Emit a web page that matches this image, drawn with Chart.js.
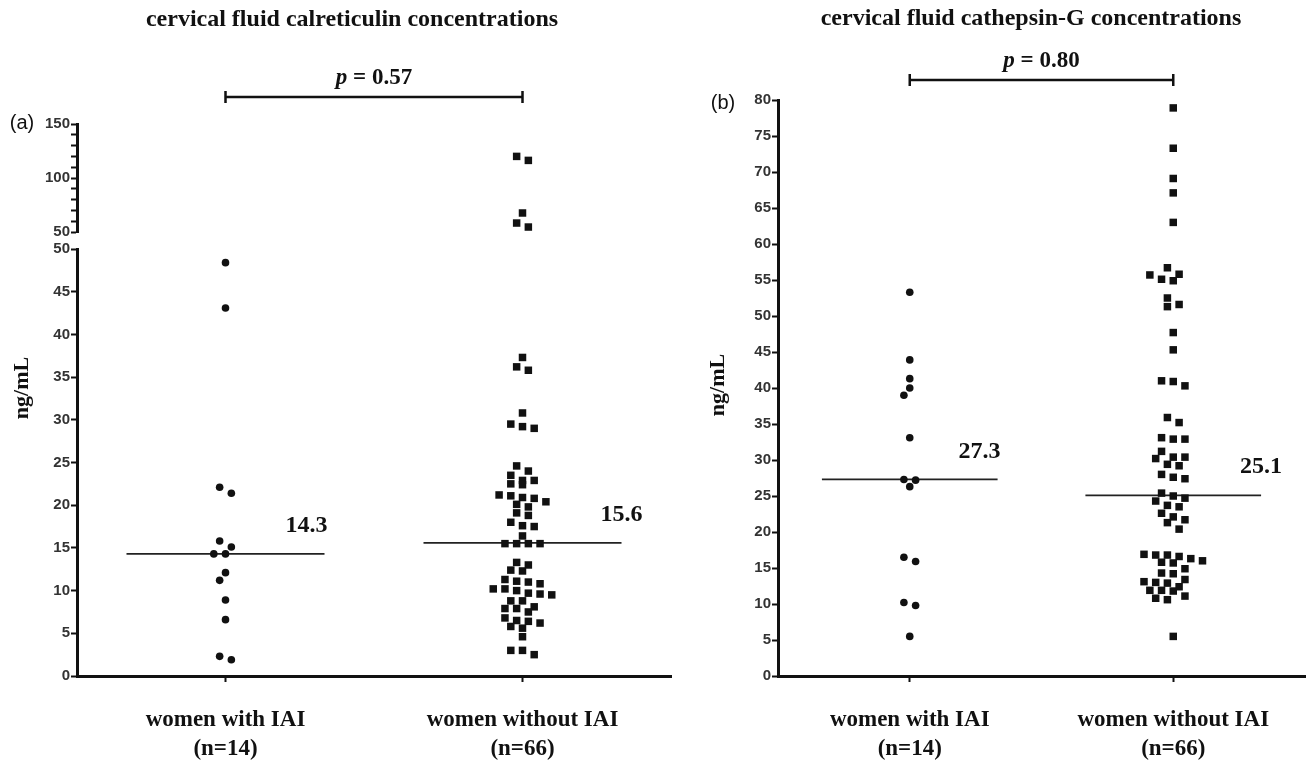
<!DOCTYPE html>
<html>
<head>
<meta charset="utf-8">
<title>Cervical fluid calreticulin and cathepsin-G</title>
<script src="https://cdn.jsdelivr.net/npm/chart.js@4.4.0/dist/chart.umd.min.js"></script>
<style>
  body { margin: 0; background: #fff; }
  #wrap { position: relative; width: 1314px; height: 760px; }
  canvas { position: absolute; left: 0; top: 0; }
</style>
</head>
<body>
<div id="wrap">
  <canvas id="calTop" width="1314" height="760"></canvas>
  <canvas id="calBottom" width="1314" height="760"></canvas>
  <canvas id="cathepsin" width="1314" height="760"></canvas>
</div>
<script>
// group labels on the x axis
const groups = [['women with IAI', '(n=14)'], ['women without IAI', '(n=66)']];

// (a) calreticulin, ng/mL
const calIAI = [48.4, 43.1, 22.1, 21.4, 15.8, 15.1, 14.3, 14.3, 12.1, 11.2, 8.9, 6.6, 2.3, 1.9];
const calNoIAI = [120.0, 116.3, 67.6, 58.3, 54.6, 37.3, 36.2, 35.8, 30.8, 29.5, 29.2, 29.0,
  24.6, 24.0, 23.5, 22.9, 22.9, 22.5, 22.4, 21.2, 21.1, 20.9, 20.8, 20.4, 20.1, 19.8,
  19.1, 18.8, 18.0, 17.6, 17.5, 16.4, 15.5, 15.5, 15.5, 15.5, 13.3, 13.0, 12.4, 12.3,
  11.3, 11.1, 11.0, 10.8, 10.2, 10.2, 10.0, 9.7, 9.6, 9.5, 8.8, 8.8, 8.1, 7.9, 7.9, 7.5,
  6.8, 6.5, 6.4, 6.2, 5.8, 5.6, 4.6, 3.0, 3.0, 2.5];
const calMedians = [14.3, 15.6];
const calP = '0.57';

// (b) cathepsin-G, ng/mL
const catIAI = [53.3, 43.9, 41.3, 40.0, 39.0, 33.1, 27.3, 27.2, 26.3, 16.5, 15.9, 10.2, 9.8, 5.5];
const catNoIAI = [78.9, 73.3, 69.1, 67.1, 63.0, 56.7, 55.8, 55.7, 55.1, 54.9, 52.5, 51.6, 51.3,
  47.7, 45.3, 41.0, 40.9, 40.3, 35.9, 35.2, 33.1, 32.9, 32.9, 31.2, 30.4, 30.4, 30.2, 29.4,
  29.2, 28.0, 27.6, 27.4, 25.4, 25.0, 24.7, 24.3, 23.7, 23.5, 22.6, 22.1, 21.7, 21.3, 20.4,
  16.9, 16.8, 16.8, 16.6, 16.3, 16.0, 15.8, 15.7, 14.9, 14.3, 14.2, 13.4, 13.1, 13.0, 12.9,
  12.4, 11.9, 11.9, 11.8, 11.1, 10.8, 10.6, 5.5];
const catMedians = [27.3, 25.1];
const catP = '0.80';

const BREAK = 50; // left axis is split here

const ink = '#111';
const serif = '"Liberation Serif", "Times New Roman", serif';
const sans = '"Liberation Sans", Arial, sans-serif';
const STEP = 5.85; // beeswarm half step, px
const GAP = 8;     // markers closer than this count as a clash, px
const ROW = 7;     // points within this many px share a row

Chart.defaults.animation = false;
Chart.defaults.events = [];
Chart.defaults.plugins.legend.display = false;
Chart.defaults.plugins.tooltip.enabled = false;

function yAxis(min, max, step, width, labelEvery) {
  return {
    min: min, max: max,
    afterFit: s => { s.width = width; },
    ticks: {
      stepSize: step, autoSkip: false, padding: 1, color: '#333',
      font: { family: sans, weight: 'bold', size: 15 },
      callback: v => (labelEvery && v % labelEvery) ? '' : v
    },
    grid: { drawOnChartArea: false, tickLength: 6, tickWidth: 2, tickColor: ink },
    border: { color: ink, width: 3 }
  };
}

function xAxis(show) {
  return {
    type: 'linear', min: 0.5, max: 2.5, display: show,
    afterBuildTicks: s => { s.ticks = [{ value: 1 }, { value: 2 }]; },
    afterFit: s => { s.height = show ? 84 : 0; },
    ticks: {
      padding: 24, color: ink,
      font: { family: serif, weight: 'bold', size: 23, lineHeight: '29px' },
      callback: v => groups[v - 1]
    },
    grid: { drawOnChartArea: false, tickLength: 6, tickWidth: 2, tickColor: ink },
    border: { color: ink, width: 3 }
  };
}

function dots(values, group, style, radius) {
  return {
    swarm: true, group: group,
    data: values.map(v => ({ x: group, y: v })),
    pointStyle: style, pointRadius: radius, pointHoverRadius: radius,
    backgroundColor: ink, borderWidth: 0, clip: false
  };
}

function medianLine(m, group) {
  return {
    data: [{ x: group - 1 / 3, y: m }, { x: group + 1 / 3, y: m }],
    showLine: true, borderColor: '#222', borderWidth: 1.8, pointRadius: 0, clip: false
  };
}

// Prism-like scatter: close values go in a centred row; the row slides sideways
// by half steps if that clears the rows above
function applySwarm(chart) {
  const xs = chart.scales.x, ys = chart.scales.y;
  const pxPerUnit = xs.getPixelForValue(2) - xs.getPixelForValue(1);
  const shifts = [0, -STEP, STEP, -2 * STEP, 2 * STEP];
  chart.data.datasets.forEach(ds => {
    if (!ds.swarm) return;
    const pts = ds.data.map(pt => ({ pt: pt, py: ys.getPixelForValue(pt.y) }))
      .sort((a, b) => a.py - b.py);
    const rows = [];
    pts.forEach(p => {
      const row = rows[rows.length - 1];
      if (row && p.py - row[0].py <= ROW) row.push(p); else rows.push([p]);
    });
    const placed = [];
    rows.forEach(row => {
      const n = row.length;
      const base = row.map((p, i) => (i - (n - 1) / 2) * 2 * STEP);
      let best = 0, bestScore = Infinity;
      shifts.forEach(shift => {
        let hits = 0;
        row.forEach((p, i) => {
          placed.forEach(q => {
            if ((q.x - base[i] - shift) ** 2 + (q.y - p.py) ** 2 < GAP * GAP) hits++;
          });
        });
        const score = hits * 100 + Math.abs(shift);
        if (score < bestScore) { bestScore = score; best = shift; }
      });
      row.forEach((p, i) => {
        const off = base[i] + best;
        placed.push({ x: off, y: p.py });
        p.pt.x = ds.group + off / pxPerUnit;
      });
    });
  });
  chart.update('none');
}

// titles, p-value bracket, median labels, axis title
const decor = {
  id: 'decor',
  afterDraw(chart, args, o) {
    const ctx = chart.ctx, xs = chart.scales.x, ys = chart.scales.y;
    ctx.save();
    ctx.fillStyle = ink;
    ctx.strokeStyle = ink;
    ctx.textBaseline = 'middle';

    if (o.title) {
      ctx.font = 'bold 24px ' + serif;
      ctx.textAlign = 'center';
      ctx.fillText(o.title, o.titleX, o.titleY);
    }

    if (o.p) {
      const x1 = xs.getPixelForValue(1), x2 = xs.getPixelForValue(2), y = o.bracketY;
      ctx.lineWidth = 2.5;
      ctx.beginPath();
      ctx.moveTo(x1, y); ctx.lineTo(x2, y);
      ctx.moveTo(x1, y - 6); ctx.lineTo(x1, y + 6);
      ctx.moveTo(x2, y - 6); ctx.lineTo(x2, y + 6);
      ctx.stroke();
      const pFont = 'italic bold 23px ' + serif, rFont = 'bold 23px ' + serif;
      const rest = ' = ' + o.p;
      ctx.font = pFont; const w1 = ctx.measureText('p').width;
      ctx.font = rFont; const w2 = ctx.measureText(rest).width;
      const tx = (x1 + x2) / 2 - (w1 + w2) / 2;
      ctx.textAlign = 'left';
      ctx.font = pFont; ctx.fillText('p', tx, y - 19);
      ctx.font = rFont; ctx.fillText(rest, tx + w1, y - 19);
    }

    if (o.tag) {
      ctx.font = '20px ' + sans;
      ctx.textAlign = 'center';
      ctx.fillText(o.tag, o.tagX, o.tagY);
    }

    if (o.medians) {
      ctx.font = 'bold 24px ' + serif;
      o.medians.forEach((m, i) => {
        const end = xs.getPixelForValue(i + 1 + 1 / 3);
        const y = ys.getPixelForValue(m) - 28;
        if (i === 0) { ctx.textAlign = 'right'; ctx.fillText(m.toFixed(1), end + 3, y); }
        else { ctx.textAlign = 'center'; ctx.fillText(m.toFixed(1), end, y); }
      });
    }

    if (o.yTitle) {
      ctx.translate(o.yTitleX, o.yTitleY);
      ctx.rotate(-Math.PI / 2);
      ctx.font = 'bold 22px ' + serif;
      ctx.textAlign = 'center';
      ctx.fillText(o.yTitle, 0, 0);
    }
    ctx.restore();
  }
};

// (a) upper part of the broken axis: 50-150
const calTop = new Chart(document.getElementById('calTop'), {
  type: 'scatter',
  data: {
    datasets: [
      dots(calIAI.filter(v => v > BREAK), 1, 'circle', 3.8),
      dots(calNoIAI.filter(v => v > BREAK), 2, 'rect', 5.3)
    ]
  },
  options: {
    responsive: false,
    layout: { padding: { top: 124, bottom: 528, left: 0, right: 643 } },
    scales: { x: xAxis(false), y: yAxis(50, 150, 10, 77, 50) },
    plugins: {
      decor: {
        title: 'cervical fluid calreticulin concentrations', titleX: 352, titleY: 20,
        p: calP, bracketY: 97,
        tag: '(a)', tagX: 22, tagY: 123
      }
    }
  },
  plugins: [decor]
});

// (a) lower part: 0-50
const calBottom = new Chart(document.getElementById('calBottom'), {
  type: 'scatter',
  data: {
    datasets: [
      dots(calIAI.filter(v => v <= BREAK), 1, 'circle', 3.8),
      dots(calNoIAI.filter(v => v <= BREAK), 2, 'rect', 5.3),
      medianLine(calMedians[0], 1),
      medianLine(calMedians[1], 2)
    ]
  },
  options: {
    responsive: false,
    layout: { padding: { top: 249, bottom: 0, left: 0, right: 643 } },
    scales: { x: xAxis(true), y: yAxis(0, 50, 5, 77, 0) },
    plugins: {
      decor: { medians: calMedians, yTitle: 'ng/mL', yTitleX: 22, yTitleY: 388 }
    }
  },
  plugins: [decor]
});

// (b) cathepsin-G
const cathepsin = new Chart(document.getElementById('cathepsin'), {
  type: 'scatter',
  data: {
    datasets: [
      dots(catIAI, 1, 'circle', 3.8),
      dots(catNoIAI, 2, 'rect', 5.3),
      medianLine(catMedians[0], 1),
      medianLine(catMedians[1], 2)
    ]
  },
  options: {
    responsive: false,
    layout: { padding: { top: 100, bottom: 0, left: 700, right: 9 } },
    scales: { x: xAxis(true), y: yAxis(0, 80, 5, 78, 0) },
    plugins: {
      decor: {
        title: 'cervical fluid cathepsin-G concentrations', titleX: 1031, titleY: 19,
        p: catP, bracketY: 80,
        tag: '(b)', tagX: 723, tagY: 103,
        medians: catMedians, yTitle: 'ng/mL', yTitleX: 718, yTitleY: 385
      }
    }
  },
  plugins: [decor]
});

[calTop, calBottom, cathepsin].forEach(applySwarm);
</script>
</body>
</html>
